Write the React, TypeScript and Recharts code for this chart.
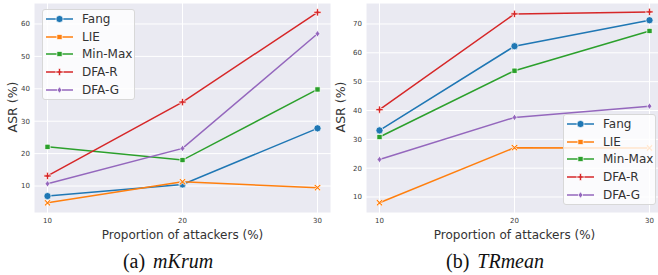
import { LineChart, Line, XAxis, YAxis, CartesianGrid } from 'recharts'

const attackers = [10, 20, 30]
const seriesNames = ['Fang', 'LIE', 'Min-Max', 'DFA-R', 'DFA-G']
const colors = ['#1f77b4', '#ff7f0e', '#2ca02c', '#d62728', '#9467bd']

// (a) mKrum
const mkrumFang = [6.9, 10.5, 27.8]
const mkrumLie = [4.8, 11.3, 9.5]
const mkrumMinMax = [22.1, 18.0, 39.8]
const mkrumDfaR = [13.1, 35.9, 63.6]
const mkrumDfaG = [10.7, 21.6, 57.0]

// (b) TRmean
const trmeanFang = [33.1, 62.3, 71.3]
const trmeanLie = [8.0, 27.1, 27.0]
const trmeanMinMax = [30.8, 53.8, 67.6]
const trmeanDfaR = [40.3, 73.5, 74.2]
const trmeanDfaG = [23.0, 37.6, 41.5]

const mkrumTicks = [10, 20, 30, 40, 50, 60]
const trmeanTicks = [10, 20, 30, 40, 50, 60, 70]

const FONT = '"DejaVu Sans", sans-serif'

function buildRows(cols: number[][]) {
  return attackers.map((x, i) => {
    const row: Record<string, number> = { x }
    seriesNames.forEach((name, j) => {
      row[name] = cols[j][i]
    })
    return row
  })
}

const mkrumRows = buildRows([mkrumFang, mkrumLie, mkrumMinMax, mkrumDfaR, mkrumDfaG])
const trmeanRows = buildRows([trmeanFang, trmeanLie, trmeanMinMax, trmeanDfaR, trmeanDfaG])

function Marker({ kind, cx, cy, color }: { kind: number; cx: number; cy: number; color: string }) {
  const sw = 0.7
  if (kind === 0) return <circle cx={cx} cy={cy} r={3.6} fill={color} stroke="#fff" strokeWidth={sw} />
  if (kind === 1) {
    const a = 3.4
    const b = 1.2
    const d = `M${cx - a},${cy - a + b} L${cx - a + b},${cy - a} L${cx},${cy - b} L${cx + a - b},${cy - a} L${cx + a},${cy - a + b} L${cx + b},${cy} L${cx + a},${cy + a - b} L${cx + a - b},${cy + a} L${cx},${cy + b} L${cx - a + b},${cy + a} L${cx - a},${cy + a - b} L${cx - b},${cy} Z`
    return <path d={d} fill={color} stroke="#fff" strokeWidth={sw} />
  }
  if (kind === 2) return <rect x={cx - 2.6} y={cy - 2.6} width={5.2} height={5.2} fill={color} stroke="#fff" strokeWidth={sw} />
  if (kind === 3) {
    const a = 3.6
    const b = 1.1
    const d = `M${cx - b},${cy - a} H${cx + b} V${cy - b} H${cx + a} V${cy + b} H${cx + b} V${cy + a} H${cx - b} V${cy + b} H${cx - a} V${cy - b} H${cx - b} Z`
    return <path d={d} fill={color} stroke="#fff" strokeWidth={sw} />
  }
  const r = 3.2
  return <path d={`M${cx},${cy - r} L${cx + r * 0.75},${cy} L${cx},${cy + r} L${cx - r * 0.75},${cy} Z`} fill={color} stroke="#fff" strokeWidth={sw} />
}

function Panel({
  rows,
  domain,
  ticks,
  left,
  labelX,
}: {
  rows: Record<string, number>[]
  domain: [number, number]
  ticks: number[]
  left: number
  labelX: number
}) {
  return (
    <div style={{ position: 'absolute', left, top: 0 }}>
      <LineChart width={332} height={245} data={rows} margin={{ top: 3, right: 0, bottom: 0, left: 0 }}>
        <CartesianGrid fill="#EAEAF2" stroke="#ffffff" strokeWidth={1} />
        <XAxis
          dataKey="x"
          type="number"
          domain={[9, 31]}
          ticks={attackers}
          allowDataOverflow
          axisLine={false}
          tickLine={false}
          tickSize={0}
          tickMargin={5}
          height={32}
          tick={{ fontSize: 7, fill: '#3a3a3a', fontFamily: FONT }}
          label={{
            value: 'Proportion of attackers (%)',
            position: 'insideBottom',
            offset: 6,
            style: { fontSize: 12, fill: '#333', fontFamily: FONT },
          }}
        />
        <YAxis
          type="number"
          domain={domain}
          ticks={ticks}
          allowDataOverflow
          axisLine={false}
          tickLine={false}
          tickSize={0}
          tickMargin={4}
          width={35}
          tick={{ fontSize: 7, fill: '#3a3a3a', fontFamily: FONT }}
          label={() => (
            <text
              x={labelX}
              y={107}
              transform={`rotate(-90 ${labelX} 107)`}
              textAnchor="middle"
              dominantBaseline="central"
              fontSize={12.5}
              fill="#333"
              fontFamily={FONT}
            >
              ASR (%)
            </text>
          )}
        />
        {seriesNames.map((name, k) => (
          <Line
            key={name}
            dataKey={name}
            stroke={colors[k]}
            strokeWidth={1.5}
            isAnimationActive={false}
            dot={(p: any) => <Marker key={`${name}-${p.index}`} kind={k} cx={p.cx} cy={p.cy} color={colors[k]} />}
            activeDot={false}
          />
        ))}
      </LineChart>
    </div>
  )
}

function LegendBox({ left, top }: { left: number; top: number }) {
  return (
    <div
      style={{
        position: 'absolute',
        left,
        top,
        width: 93,
        height: 91,
        background: 'rgba(255,255,255,0.8)',
        border: '1px solid #d8d8d8',
        borderRadius: 3,
        boxSizing: 'border-box',
        paddingTop: 0.5,
      }}
    >
      {seriesNames.map((name, k) => (
        <div key={name} style={{ display: 'flex', alignItems: 'center', height: 17.6 }}>
          <svg width={36} height={12} style={{ marginLeft: 2 }}>
            <line x1={1} y1={6} x2={28} y2={6} stroke={colors[k]} strokeWidth={1.5} />
            <Marker kind={k === 1 ? 2 : k} cx={14.5} cy={6} color={colors[k]} />
          </svg>
          <span style={{ fontFamily: FONT, fontSize: 12, color: '#333', marginLeft: 1 }}>{name}</span>
        </div>
      ))}
    </div>
  )
}

const captionStyle: React.CSSProperties = {
  position: 'absolute',
  top: 250,
  width: 300,
  textAlign: 'center',
  fontFamily: '"Liberation Serif", serif',
  fontSize: 20,
  color: '#111',
  whiteSpace: 'pre',
}

export default function App() {
  return (
    <div
      style={{
        position: 'absolute',
        left: 0,
        top: 0,
        width: 658,
        height: 275,
        overflow: 'hidden',
        background: '#fff',
      }}
    >
      <Panel rows={mkrumRows} domain={[1.67, 66.48]} ticks={mkrumTicks} left={-1} labelX={13.5} />
      <Panel rows={trmeanRows} domain={[4.45, 77.28]} ticks={trmeanTicks} left={331} labelX={9.7} />
      <LegendBox left={42} top={9} />
      <LegendBox left={563} top={114} />
      <div style={{ ...captionStyle, left: 18 }}>
        (a)<i style={{ marginLeft: 8 }}>mKrum</i>
      </div>
      <div style={{ ...captionStyle, left: 345 }}>
        (b)<i style={{ marginLeft: 8 }}>TRmean</i>
      </div>
    </div>
  )
}
